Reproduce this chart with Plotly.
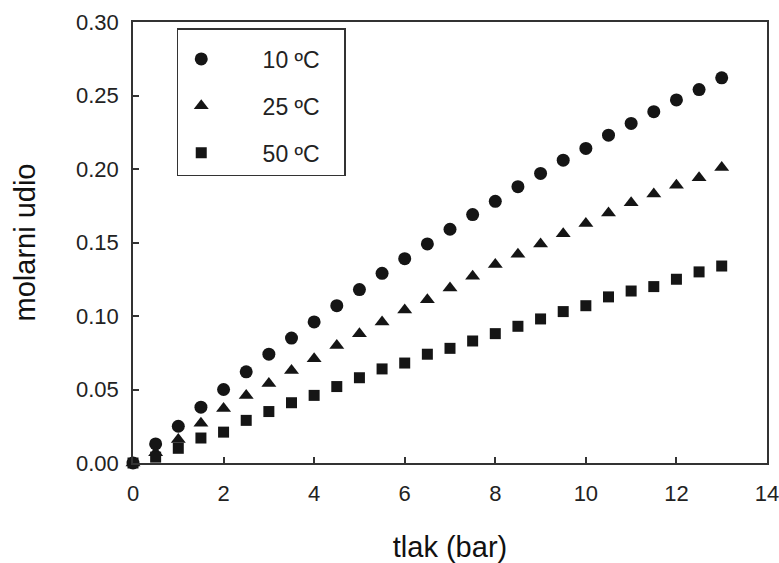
import plotly.graph_objects as go

# Data
pressure = [0, 0.5, 1, 1.5, 2, 2.5, 3, 3.5, 4, 4.5, 5, 5.5, 6, 6.5, 7,
            7.5, 8, 8.5, 9, 9.5, 10, 10.5, 11, 11.5, 12, 12.5, 13]
t10 = [0, 0.013, 0.025, 0.038, 0.050, 0.062, 0.074, 0.085, 0.096, 0.107, 0.118,
       0.129, 0.139, 0.149, 0.159, 0.169, 0.178, 0.188, 0.197, 0.206, 0.214,
       0.223, 0.231, 0.239, 0.247, 0.254, 0.262]
t25 = [0, 0.007, 0.016, 0.027, 0.037, 0.046, 0.054, 0.063, 0.071, 0.080, 0.088,
       0.096, 0.104, 0.111, 0.119, 0.127, 0.135, 0.142, 0.149, 0.156, 0.163,
       0.170, 0.177, 0.183, 0.189, 0.194, 0.201]
t50 = [0, 0.004, 0.010, 0.017, 0.021, 0.029, 0.035, 0.041, 0.046, 0.052, 0.058,
       0.064, 0.068, 0.074, 0.078, 0.083, 0.088, 0.093, 0.098, 0.103, 0.107,
       0.113, 0.117, 0.120, 0.125, 0.130, 0.134]
labels = ["10 ºC", "25 ºC", "50 ºC"]
x_ticks = [0, 2, 4, 6, 8, 10, 12, 14]
y_ticks = [0.00, 0.05, 0.10, 0.15, 0.20, 0.25, 0.30]

INK = "#151515"
FONT = "Liberation Sans, Arial, sans-serif"
pad = "\u00a0" * 6
tail = "\u00a0" * 3

fig = go.Figure()
series = [(t10, "circle", 13), (t25, "triangle-up", 13), (t50, "square", 11)]
for i, (vals, sym, sz) in enumerate(series):
    fig.add_trace(go.Scatter(
        x=pressure, y=vals, mode="markers", name=pad + labels[i] + tail,
        legendgroup=f"g{i}",
        marker=dict(symbol=sym, size=sz, color=INK, line=dict(width=0)),
        cliponaxis=False,
    ))

axis_common = dict(
    showgrid=False, zeroline=False, showline=True, linecolor="#333333",
    linewidth=1.5, mirror=True, ticks="inside", ticklen=6, tickwidth=1.5,
    tickcolor="#333333", tickfont=dict(family=FONT, size=22, color="#222222"),
    automargin=False, ticklabeloverflow="allow",
)

fig.update_layout(
    width=779, height=563,
    margin=dict(l=133, r=12, t=22, b=100),
    paper_bgcolor="white", plot_bgcolor="white",
    font=dict(family=FONT, color="#111111"),
    xaxis=dict(range=[0, 14], tickvals=x_ticks, ticktext=[str(v) for v in x_ticks],
               ticklabelstandoff=10,
               title=dict(text="tlak (bar)", font=dict(family=FONT, size=29), standoff=32),
               **axis_common),
    yaxis=dict(range=[0, 0.30], tickvals=y_ticks, ticktext=[f"{v:.2f}" for v in y_ticks],
               ticklabelstandoff=8,
               title=dict(text="molarni udio", font=dict(family=FONT, size=29), standoff=32),
               **axis_common),
    legend=dict(
        x=0.069, y=0.986, xanchor="left", yanchor="top",
        bordercolor="#333333", borderwidth=1.5, bgcolor="white",
        font=dict(family=FONT, size=23, color="#222222"),
        tracegroupgap=14, itemwidth=36,
        title=dict(text=" ", font=dict(size=6)),
    ),
    showlegend=True,
)

fig.write_html("out.html", config={"displayModeBar": False},
               post_script="document.body.style.margin='0px';")
